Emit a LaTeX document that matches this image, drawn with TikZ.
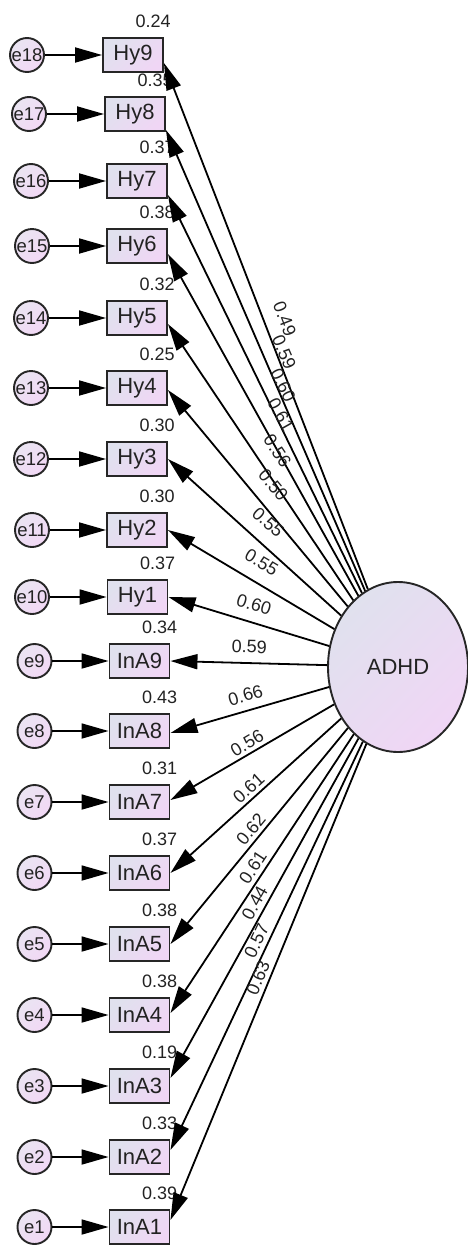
\documentclass[tikz,border=0pt]{standalone}
\usepackage{fontspec}
\setmainfont{Liberation Sans}
\usetikzlibrary{arrows.meta,shapes.geometric}
\definecolor{boxA}{RGB}{224,225,238}
\definecolor{boxB}{RGB}{240,214,245}
\definecolor{cirA}{RGB}{234,228,242}
\definecolor{cirB}{RGB}{242,216,245}
\definecolor{txt}{RGB}{34,34,34}
\begin{document}
\begin{tikzpicture}[x=1pt,y=-1pt,
  obs/.style={draw=black!85, line width=1.9pt, minimum width=60pt, minimum height=34pt,
    inner sep=0pt, top color=boxA, bottom color=boxB, shading angle=45,
    font=\fontsize{22}{24}\selectfont, text=txt},
  err/.style={circle, draw=black!85, line width=1.9pt, minimum size=34pt, inner sep=0pt,
    top color=cirA, bottom color=cirB, shading angle=45,
    font=\fontsize{18.5}{20}\selectfont, text=txt},
  fac/.style={ellipse, draw=black!85, line width=1.9pt, minimum width=140pt, minimum height=170pt,
    inner sep=0pt, top color=boxA, bottom color=boxB, shading angle=45,
    font=\fontsize{22}{24}\selectfont, text=txt},
  vlab/.style={anchor=base east, inner sep=0pt, font=\fontsize{18}{20}\selectfont, text=txt},
  plab/.style={sloped, inner sep=0pt, font=\fontsize{18}{20}\selectfont, text=txt},
  arr/.style={line width=1.8pt, black, -{Triangle[length=27pt,width=15pt]}}
]
\useasboundingbox (0,0) rectangle (468,1245);
\def\rows{Hy9/133/55/27/e18/0.24/0.49/-8/13pt,
  Hy8/135/114/29/e17/0.35/0.59/-16/13pt,
  Hy7/137/181/31/e16/0.37/0.60/-14/13pt,
  Hy6/137/246/32/e15/0.38/0.61/-8/13pt,
  Hy5/137/318/31/e14/0.32/0.56/-6/13pt,
  Hy4/137/388/31/e13/0.25/0.50/-2/13pt,
  Hy3/137/459/31/e12/0.30/0.55/0/13pt,
  Hy2/137/530/32/e11/0.30/0.55/0/13pt,
  Hy1/137.5/597/32/e10/0.37/0.60/0/10.5pt,
  InA9/139.5/661/34.5/e9/0.34/0.59/0/9pt,
  InA8/139.5/731/34.5/e8/0.43/0.66/-2/8pt,
  InA7/139.5/802/34.5/e7/0.31/0.56/2/3pt,
  InA6/139.5/873/34.5/e6/0.37/0.61/0/3.5pt,
  InA5/139.5/944/34.5/e5/0.38/0.62/0/3.5pt,
  InA4/139.5/1015/34.5/e4/0.38/0.61/2/4pt,
  InA3/139.5/1086/34.5/e3/0.19/0.44/8/4pt,
  InA2/139.5/1157/34.5/e2/0.33/0.57/7/4pt,
  InA1/139.5/1227/34.5/e1/0.39/0.63/7/4pt}
\foreach \n/\bx/\by/\ex/\e/\v/\p/\t/\d in \rows {
  \node[obs] (\n) at (\bx,\by) {\n};
  \node[err] (\e) at (\ex,\by) {\e};
  \node[vlab] (v\n) at ([xshift=7pt,yshift=10pt]\n.north east) {\v};
}
\node[fac] (ADHD) at (398,667) {ADHD};
\foreach \n/\bx/\by/\ex/\e/\v/\p/\t/\d in \rows {
  \draw[arr] (\e) -- (\n);
  \draw[arr] (ADHD) -- node[plab, above=\d] {\p} ([yshift=\t pt]\n.east);
}
\end{tikzpicture}
\end{document}
